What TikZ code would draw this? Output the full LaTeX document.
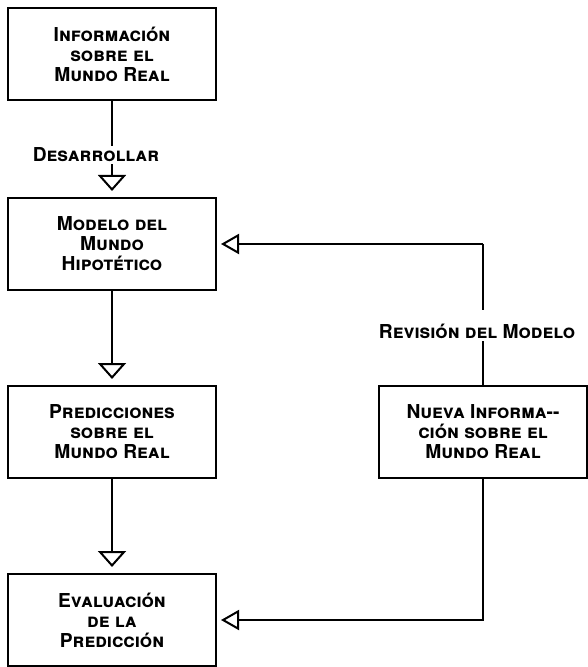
\documentclass[tikz,border=0pt]{standalone}
\usepackage{fontspec}
\setmainfont{TeX Gyre Heros}
\usepackage{tikz}
\usetikzlibrary{arrows.meta,positioning,calc}
\tikzset{
    caja/.style={draw, line width=1pt, minimum width=104pt, minimum height=46pt, align=center, font=\fontsize{9.6}{10}\selectfont\bfseries\scshape},
    etiqueta/.style={font=\fontsize{9.6}{10}\selectfont\bfseries\scshape, inner sep=1pt},
    flecha/.style={-{Triangle[open, length=8pt, width=14pt]}, line width=1pt, shorten >=3pt},
    retro/.style={-{Triangle[open, length=9pt, width=10pt]}, line width=1pt, shorten >=2pt},
    linea/.style={line width=1pt}
}

\begin{document}
\begin{tikzpicture}[x=0.5pt, y=-0.5pt, node distance=47pt]
                    \useasboundingbox (0,0) rectangle (587,667);
                    \node[caja] (info) at (112,54) {Información\\sobre el\\Mundo Real};
                    \node[caja, below=48pt of info] (modelo) {Modelo del\\Mundo\\Hipotético};
                    \node[caja, below=of modelo] (pred) {Predicciones\\sobre el\\Mundo Real};
                    \node[caja, below=of pred] (eval) {Evaluación\\de la\\Predicción};
                    \node[caja, right=80.5pt of pred] (nueva) {Nueva Informa-{}-\\ción sobre el\\Mundo Real};
                    
                    \node[etiqueta] (desarrollar) at ($(info.south)!.5!(modelo.north)+(-8pt,-3pt)$) {Desarrollar};
                    \coordinate (esq1) at (nueva |- modelo);
                    \coordinate (esq2) at (nueva |- eval);
                    \node[etiqueta, above=22pt of nueva, xshift=-3pt] (revision) {Revisión del Modelo};
                    
                    \draw[linea] (info) -- (info |- desarrollar.north);
                    \draw[flecha] (info |- desarrollar.south) -- (modelo);
                    \draw[flecha] (modelo) -- (pred);
                    \draw[flecha] (pred) -- (eval);
                    \draw[linea] (nueva) -- (nueva |- revision.south);
                    \draw[linea, shorten >=6pt] (esq1) -- (nueva |- revision.north);
                    \draw[retro] (esq1) -- (modelo);
                    \draw[retro] (nueva) -- (esq2) -- (eval);
                \end{tikzpicture}
\end{document}
